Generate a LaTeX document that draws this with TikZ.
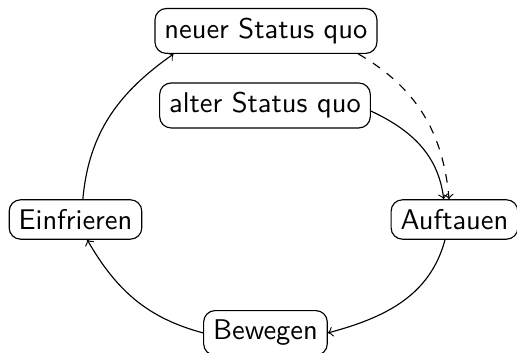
\documentclass[tikz,border=0pt]{standalone}
\usepackage{tikz}
\usetikzlibrary{arrows}

\tikzset{
  phase/.style={draw,rounded corners,font=\sffamily},
  flow/.style={->},
  shortcut/.style={->,dashed}
}

\begin{document}
\begin{tikzpicture}
            \useasboundingbox (0,0) rectangle (6.376,4.353);

            % states of the cycle
            \node[phase] (neuer) at (3.280,3.971) {neuer Status quo};
            \node[phase] (alter) at (3.268,3.052) {alter Status quo};
            \node[phase] (einfrieren) at (0.931,1.646) {Einfrieren};
            \node[phase] (auftauen) at (5.605,1.646) {Auftauen};
            \node[phase] (bewegen) at (3.274,0.247) {Bewegen};

            \draw[flow] (alter.-3) to[out=-25,in=97] (auftauen.118);
            \draw[shortcut] (neuer.-14.5) to[out=-30,in=95] (auftauen.105);
            \draw[flow] (auftauen.-115) to[out=-105,in=15] (bewegen.east);
            \draw[flow] (bewegen.west) to[out=165,in=-60] (einfrieren.-60);
            \draw[flow] (einfrieren.70) to[out=85,in=-145] (neuer.-166);
          \end{tikzpicture}
\end{document}
